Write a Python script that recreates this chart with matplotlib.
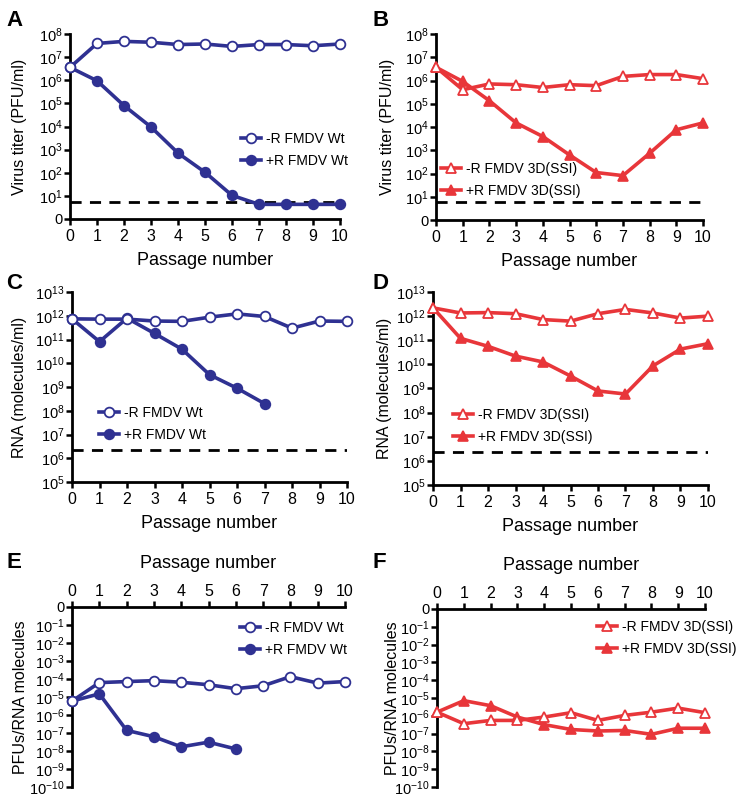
import matplotlib
matplotlib.use("Agg")
import matplotlib.pyplot as plt
from matplotlib.ticker import NullLocator

plt.rcParams['font.family'] = ['Liberation Sans', 'DejaVu Sans']
plt.rcParams['mathtext.fontset'] = 'custom'
plt.rcParams['mathtext.rm'] = 'Liberation Sans'
plt.rcParams['mathtext.it'] = 'Liberation Sans:italic'
plt.rcParams['mathtext.bf'] = 'Liberation Sans:bold'

# ---------------- data ----------------
passages = list(range(11))

A_minusR = [3.6e6, 3.9e7, 4.8e7, 4.4e7, 3.5e7, 3.7e7, 2.9e7, 3.5e7, 3.5e7, 3.1e7, 3.7e7]
A_plusR = [3.6e6, 9.5e5, 8.0e4, 9.5e3, 710, 105, 10.5, 4.3, 4.3, 4.3, 4.3]
A_limit = 5.5

B_minusR = [3.7e6, 4.0e5, 7.1e5, 6.6e5, 5.0e5, 6.6e5, 6.0e5, 1.5e6, 1.8e6, 1.8e6, 1.2e6]
B_plusR = [3.7e6, 9.1e5, 1.35e5, 1.5e4, 3.9e3, 630, 110, 81, 740, 7.6e3, 1.5e4]
B_limit = 5.8

C_minusR = [7.4e11, 7.2e11, 7.2e11, 6.0e11, 5.8e11, 8.7e11, 1.2e12, 9.3e11, 3.0e11, 6.0e11, 5.8e11]
C_plusR = [7.4e11, 8.1e10, 7.9e11, 1.8e11, 3.9e10, 3.3e9, 8.9e8, 2.0e8]
C_limit = 2.3e6

D_minusR = [2.2e12, 1.35e12, 1.4e12, 1.26e12, 7.2e11, 6.2e11, 1.26e12, 1.9e12, 1.35e12, 8.3e11, 1.0e12]
D_plusR = [2.2e12, 1.2e11, 5.6e10, 2.2e10, 1.26e10, 3.3e9, 7.9e8, 5.9e8, 8.7e9, 4.3e10, 7.2e10]
D_limit = 2.4e6

E_minusR = [5.9e-6, 6.3e-5, 7.2e-5, 8.1e-5, 6.6e-5, 4.8e-5, 2.9e-5, 4.2e-5, 1.35e-4, 5.9e-5, 7.2e-5]
E_plusR = [5.9e-6, 1.5e-5, 1.4e-7, 6.2e-8, 1.7e-8, 3.1e-8, 1.3e-8]

F_minusR = [1.6e-6, 3.6e-7, 5.5e-7, 5.5e-7, 8.5e-7, 1.5e-6, 5.5e-7, 1.05e-6, 1.6e-6, 2.7e-6, 1.5e-6]
F_plusR = [1.6e-6, 7.1e-6, 3.7e-6, 8.5e-7, 3.2e-7, 1.7e-7, 1.4e-7, 1.5e-7, 9.1e-8, 2.0e-7, 2.0e-7]

wt_labels = ['-R FMDV Wt', '+R FMDV Wt']
ssi_labels = ['-R FMDV 3D(SSI)', '+R FMDV 3D(SSI)']
titer_exps = list(range(0, 9))
rna_exps = list(range(5, 14))
ratio_exps = list(range(-10, 1))

BLUE = '#2f3192'
RED = '#e8363a'

W, H = 741, 800
fig = plt.figure(figsize=(W / 100, H / 100), dpi=100)


def add_ax(left, top, right, bottom):
    return fig.add_axes([left / W, 1 - bottom / H, (right - left) / W, (bottom - top) / H])


def exp_label(e):
    if e == 0:
        return '0'
    return r'$10^{%d}$' % e


def style(ax, exps, top=False):
    ax.set_yscale('log')
    ax.set_ylim(10.0 ** exps[0], 10.0 ** exps[-1])
    ax.set_yticks([10.0 ** e for e in exps])
    ax.set_yticklabels([exp_label(e) for e in exps], fontsize=10.5)
    ax.yaxis.set_minor_locator(NullLocator())
    ax.set_xlim(0, 10)
    ax.set_xticks(passages)
    ax.set_xticklabels([str(p) for p in passages], fontsize=11.5)
    for s in ['right', 'top', 'bottom', 'left']:
        ax.spines[s].set_linewidth(2.0)
    ax.spines['right'].set_visible(False)
    if top:
        ax.spines['bottom'].set_visible(False)
        ax.xaxis.tick_top()
        ax.xaxis.set_label_position('top')
    else:
        ax.spines['top'].set_visible(False)
    ax.tick_params(width=1.8, length=4, direction='out', pad=1.5)
    ax.tick_params(axis='x', pad=3 if not top else 2)
    ax.set_xlabel('Passage number', fontsize=13, labelpad=6 if not top else 11)
    ax.patch.set_alpha(0)


def plot_pair(ax, minus, plus, color, marker, labels):
    lp, = ax.plot(passages[:len(plus)], plus, color=color, lw=2.6, marker=marker,
                  ms=7, mfc=color, mec=color, mew=1.2, clip_on=False, zorder=3,
                  label=labels[1])
    lm, = ax.plot(passages[:len(minus)], minus, color=color, lw=2.6, marker=marker,
                  ms=7, mfc='white', mec=color, mew=1.3, clip_on=False, zorder=4,
                  label=labels[0])
    return lm, lp


def legend(ax, handles, labels, x, y):
    ax.legend(handles, labels, loc='upper left', bbox_to_anchor=(x / W, 1 - y / H),
              bbox_transform=fig.transFigure, frameon=False, fontsize=10,
              borderpad=0, borderaxespad=0, handlelength=1.45, handletextpad=0.35,
              labelspacing=0.6)


def ylab(ax, text, xpx, left):
    ax.set_ylabel(text, fontsize=11.5)
    ax.yaxis.set_label_coords((xpx - left) / ax.get_position().width / W, 0.5)


# Panel A
axA = add_ax(70, 34, 340, 219)
style(axA, titer_exps)
h = plot_pair(axA, A_minusR, A_plusR, BLUE, 'o', wt_labels)
axA.axhline(A_limit, color='black', lw=2, ls=(0, (4, 3)), zorder=2)
ylab(axA, 'Virus titer (PFU/ml)', 27, 70)
legend(axA, h, wt_labels, 241, 132)

# Panel B
axB = add_ax(436, 34, 703, 220)
style(axB, titer_exps)
h = plot_pair(axB, B_minusR, B_plusR, RED, '^', ssi_labels)
axB.axhline(B_limit, color='black', lw=2, ls=(0, (4, 3)), zorder=2)
ylab(axB, 'Virus titer (PFU/ml)', 395, 436)
legend(axB, h, ssi_labels, 441, 162)

# Panel C
axC = add_ax(72, 292, 347, 482)
style(axC, rna_exps)
h = plot_pair(axC, C_minusR, C_plusR, BLUE, 'o', wt_labels)
axC.axhline(C_limit, color='black', lw=2, ls=(0, (4, 3)), zorder=2)
ylab(axC, 'RNA (molecules/ml)', 27, 72)
legend(axC, h, wt_labels, 99, 406)

# Panel D
axD = add_ax(433, 292, 708, 485)
style(axD, rna_exps)
h = plot_pair(axD, D_minusR, D_plusR, RED, '^', ssi_labels)
axD.axhline(D_limit, color='black', lw=2, ls=(0, (4, 3)), zorder=2)
ylab(axD, 'RNA (molecules/ml)', 392, 433)
legend(axD, h, ssi_labels, 453, 408)

# Panel E
axE = add_ax(72, 607, 345, 787)
style(axE, ratio_exps, top=True)
h = plot_pair(axE, E_minusR, E_plusR, BLUE, 'o', wt_labels)
ylab(axE, 'PFUs/RNA molecules', 28, 72)
legend(axE, h, wt_labels, 240, 621)

# Panel F
axF = add_ax(437, 609, 705, 787)
style(axF, ratio_exps, top=True)
h = plot_pair(axF, F_minusR, F_plusR, RED, '^', ssi_labels)
ylab(axF, 'PFUs/RNA molecules', 400, 437)
legend(axF, h, ssi_labels, 597, 620)

# Panel letters
for letter, x, y in [('A', 6, 10), ('B', 373, 10), ('C', 6, 273), ('D', 373, 273),
                     ('E', 6, 552), ('F', 373, 552)]:
    fig.text(x / W, 1 - y / H, letter, fontsize=16, fontweight='bold', va='top', ha='left')

fig.savefig('out.png', dpi=100)
